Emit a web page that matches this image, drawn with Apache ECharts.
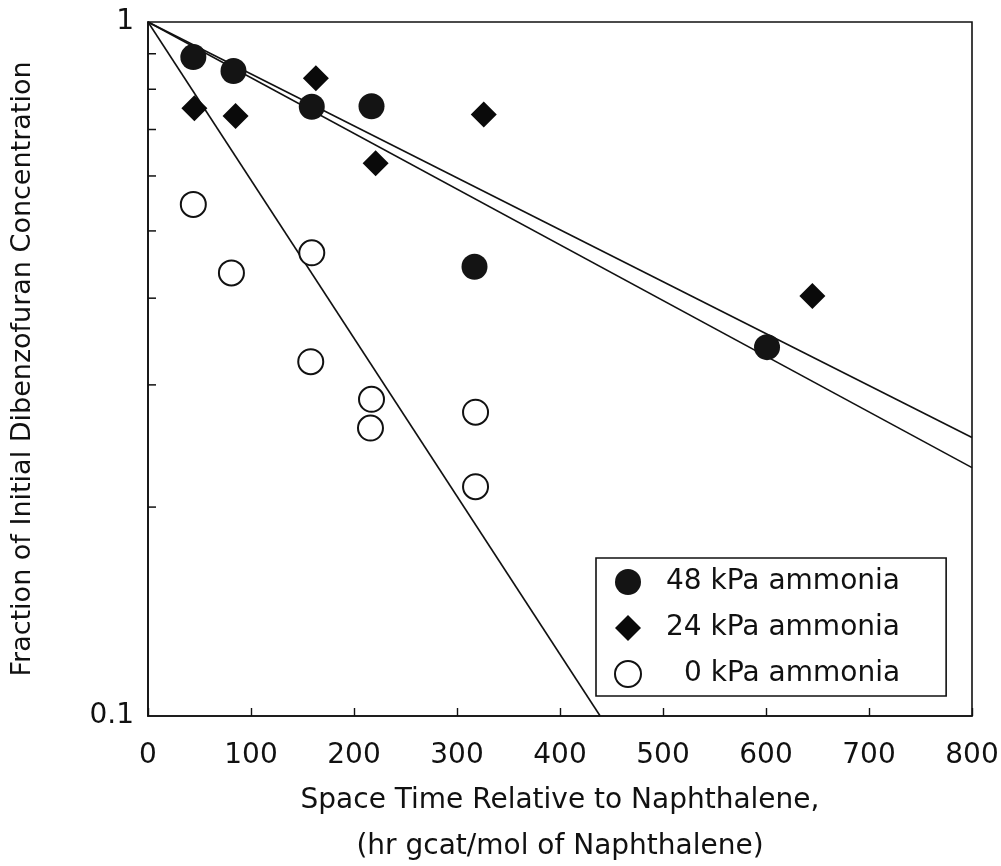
<!DOCTYPE html>
<html>
<head>
<meta charset="utf-8">
<script src="https://cdn.jsdelivr.net/npm/echarts@6/dist/echarts.min.js"></script>
<style>
  html, body { margin: 0; padding: 0; background: #fff; }
  #main { width: 1001px; height: 866px; }
</style>
</head>
<body>
<div id="main"></div>
<script>
// space time (x) and fraction remaining (y)
let x48 = [44, 83, 159, 217, 317, 601];
let y48 = [0.89, 0.85, 0.755, 0.756, 0.444, 0.34];

let x24 = [45, 85, 163, 221, 326, 645];
let y24 = [0.751, 0.732, 0.83, 0.626, 0.736, 0.403];

let x0 = [44, 81, 159, 158, 217, 216, 318, 318];
let y0 = [0.546, 0.435, 0.465, 0.324, 0.286, 0.26, 0.274, 0.214];

// first-order fits, all from (0, 1)
let fitUpper = [[0, 1], [800, 0.252]];
let fitLower = [[0, 1], [800, 0.228]];
let fitSteep = [[0, 1], [439, 0.1]];

// minor log ticks on the y axis
let yMinor = [0.2, 0.3, 0.4, 0.5, 0.6, 0.7, 0.8, 0.9];

let names = ["48 kPa ammonia", "24 kPa ammonia", "0 kPa ammonia"];

function pairs(xs, ys) {
  let out = [];
  for (let i = 0; i < xs.length; i++) out.push([xs[i], ys[i]]);
  return out;
}

let font = "DejaVu Sans";
let ink = "#111";

var myChart = echarts.init(document.getElementById("main"));

function fitLine(data) {
  return {
    type: "line",
    data: data,
    showSymbol: false,
    silent: true,
    lineStyle: { color: ink, width: 1.6 },
    z: 2,
  };
}

var option = {
  backgroundColor: "#fff",
  animation: false,
  grid: {
    left: 148,
    right: 29,
    top: 22,
    bottom: 150,
    outerBoundsMode: "none",
    show: true,
    borderColor: ink,
    borderWidth: 1.6,
  },
  legend: {
    orient: "vertical",
    left: 596,
    top: 558,
    data: names,
    backgroundColor: "#fff",
    borderColor: ink,
    borderWidth: 1.6,
    borderRadius: 0,
    padding: [10, 46, 8, 18],
    itemWidth: 26,
    itemHeight: 26,
    itemGap: 18,
    formatter: function (name) {
      return name.charAt(0) === "0" ? "{p|}" + name : name;
    },
    textStyle: {
      fontFamily: font,
      fontSize: 28,
      color: ink,
      lineHeight: 26,
      padding: [0, 0, 0, 20],
      rich: { p: { width: 18 } },
    },
  },
  xAxis: {
    type: "value",
    min: 0,
    max: 800,
    interval: 100,
    splitLine: { show: false },
    axisLine: { lineStyle: { color: ink, width: 1.6 } },
    axisTick: { inside: true, length: 8, lineStyle: { color: ink, width: 1.4 } },
    axisLabel: { fontFamily: font, fontSize: 28, color: ink, margin: 26 },
    name: "Space Time Relative to Naphthalene,\n(hr gcat/mol of Naphthalene)",
    nameLocation: "middle",
    nameGap: 62,
    nameTextStyle: { fontFamily: font, fontSize: 28, color: ink, lineHeight: 46 },
  },
  yAxis: {
    type: "log",
    logBase: 10,
    min: 0.1,
    max: 1,
    splitLine: { show: false },
    axisLine: { lineStyle: { color: ink, width: 1.6 } },
    axisTick: { show: false },
    axisLabel: {
      fontFamily: font,
      fontSize: 28,
      color: ink,
      margin: 14,
      formatter: function (v) {
        return v >= 1 ? "1" : "0.1";
      },
    },
    name: "Fraction of Initial Dibenzofuran Concentration",
    nameLocation: "middle",
    nameGap: 112,
    nameTextStyle: { fontFamily: font, fontSize: 27, color: ink },
  },
  series: [
    fitLine(fitUpper),
    fitLine(fitLower),
    fitLine(fitSteep),
    {
      type: "scatter",
      data: yMinor.map(function (v) { return [0, v]; }),
      symbol: "rect",
      symbolSize: [8, 1.5],
      symbolOffset: [4, 0],
      itemStyle: { color: ink, opacity: 1 },
      silent: true,
      z: 1,
    },
    {
      name: names[0],
      type: "scatter",
      data: pairs(x48, y48),
      symbol: "circle",
      symbolSize: 26,
      itemStyle: { color: "#141414", opacity: 1 },
      z: 5,
    },
    {
      name: names[1],
      type: "scatter",
      data: pairs(x24, y24),
      symbol: "diamond",
      symbolSize: 26,
      itemStyle: { color: "#0a0a0a", opacity: 1 },
      z: 5,
    },
    {
      name: names[2],
      type: "scatter",
      data: pairs(x0, y0),
      symbol: "circle",
      symbolSize: 25,
      itemStyle: { color: "#fff", borderColor: ink, borderWidth: 2, opacity: 1 },
      z: 5,
    },
  ],
};

myChart.setOption(option);
</script>
</body>
</html>
